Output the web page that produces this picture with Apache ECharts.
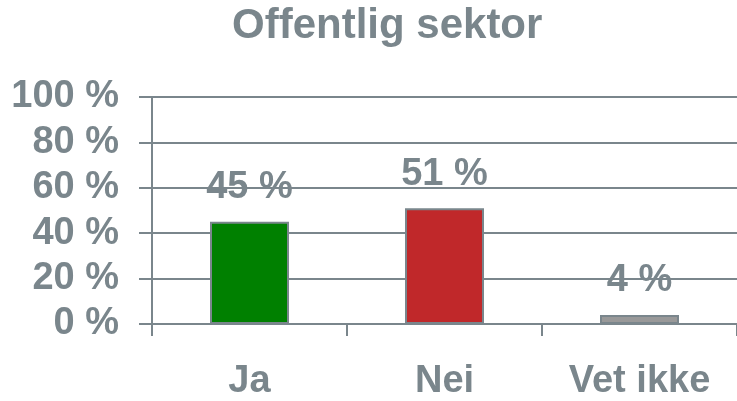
<!DOCTYPE html>
<html>
<head>
<meta charset="utf-8">
<script src="https://cdn.jsdelivr.net/npm/echarts@6/dist/echarts.min.js"></script>
<style>
  html, body { margin: 0; padding: 0; background: #fff; }
  #chart { width: 737px; height: 401px; }
</style>
</head>
<body>
<div id="chart"></div>
<script>
var categories = ['Ja', 'Nei', 'Vet ikke'];
var values = [45, 51, 4];
var barColors = ['#008000', '#c0282a', '#999999'];
var yTicks = [0, 20, 40, 60, 80, 100];

var gray = '#7a868c';
var font = '"Liberation Sans", Arial, sans-serif';

var myChart = echarts.init(document.getElementById('chart'));

var option = {
  backgroundColor: '#fff',
  animation: false,
  title: {
    text: 'Offentlig sektor',
    left: 227,
    top: 0,
    textStyle: {
      color: gray,
      fontSize: 42,
      fontWeight: 'bold',
      fontFamily: font
    }
  },
  grid: {
    left: 152,
    top: 97,
    width: 591,
    bottom: 74
  },
  xAxis: {
    type: 'category',
    data: categories,
    axisLine: { lineStyle: { color: gray, width: 2 } },
    axisTick: { show: true, length: 12, lineStyle: { color: gray, width: 2 } },
    axisLabel: {
      color: gray,
      fontSize: 38,
      fontWeight: 'bold',
      fontFamily: font,
      margin: 39
    }
  },
  yAxis: {
    type: 'value',
    min: 0,
    max: 100,
    interval: 20,
    axisLine: { show: true, lineStyle: { color: gray, width: 2 } },
    axisTick: { show: true, length: 13, lineStyle: { color: gray, width: 2 } },
    splitLine: { show: true, lineStyle: { color: gray, width: 2 } },
    axisLabel: {
      color: gray,
      fontSize: 38,
      fontWeight: 'bold',
      fontFamily: font,
      margin: 33,
      formatter: function (v) { return yTicks.indexOf(v) >= 0 ? v + ' %' : ''; }
    }
  },
  series: [{
    type: 'bar',
    barWidth: 79,
    data: values.map(function (v, i) {
      return { value: v, itemStyle: { color: barColors[i] } };
    }),
    itemStyle: { borderColor: gray, borderWidth: 2 },
    label: {
      show: true,
      position: 'top',
      distance: 15,
      formatter: '{c} %',
      color: gray,
      fontSize: 38,
      fontWeight: 'bold',
      fontFamily: font
    }
  }]
};
myChart.setOption(option);
</script>
</body>
</html>
